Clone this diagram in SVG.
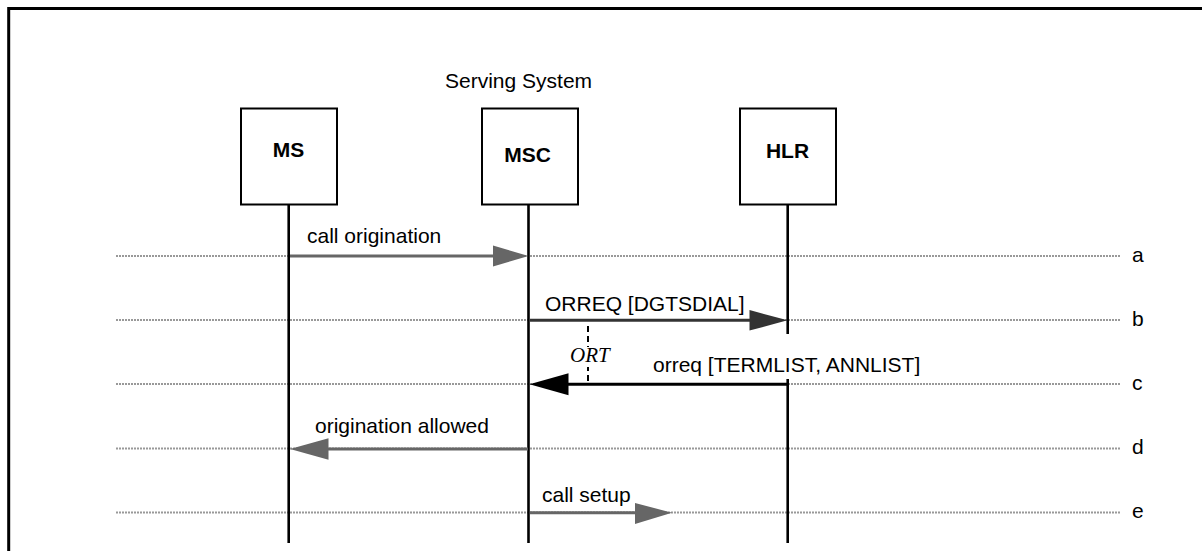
<svg xmlns="http://www.w3.org/2000/svg" width="1202" height="551" viewBox="0 0 1202 551">
<defs>
<style>
.t{font-family:"Liberation Sans",Arial,sans-serif;font-size:21px;fill:#000}
.b{font-family:"Liberation Sans",Arial,sans-serif;font-size:21px;font-weight:bold;fill:#000;text-anchor:middle}
.box{fill:#fff;stroke:#000;stroke-width:2}
.life{stroke:#000;stroke-width:2.6}
.sep{stroke:#999;stroke-width:2;stroke-dasharray:2 1}
.gray{stroke:#666;stroke-width:3;fill:none}
.dark{stroke:#333;stroke-width:3;fill:none}
.blk{stroke:#000;stroke-width:3;fill:none}
</style>
</defs>
<rect width="1202" height="551" fill="#fff"/>
<path d="M8.7,551 V8.5 H1202" fill="none" stroke="#000" stroke-width="3"/>
<text class="t" x="445" y="88">Serving System</text>
<g id="separators">
<line class="sep" x1="116" y1="256" x2="1120" y2="256"/>
<line class="sep" x1="116" y1="320" x2="1120" y2="320"/>
<line class="sep" x1="116" y1="384" x2="1120" y2="384"/>
<line class="sep" x1="116" y1="448.5" x2="1120" y2="448.5"/>
<line class="sep" x1="116" y1="512.5" x2="1120" y2="512.5"/>
<text class="t" x="1132" y="262">a</text>
<text class="t" x="1132" y="326">b</text>
<text class="t" x="1132" y="390">c</text>
<text class="t" x="1132" y="454">d</text>
<text class="t" x="1132" y="518">e</text>
</g>
<g id="MS">
<rect class="box" x="241" y="108.5" width="96" height="96"/>
<line class="life" x1="288.7" y1="205" x2="288.7" y2="543"/>
<text class="b" x="288.5" y="157">MS</text>
</g>
<g id="MSC">
<rect class="box" x="482" y="108.5" width="96" height="96"/>
<line class="life" x1="528.5" y1="205" x2="528.5" y2="543"/>
<text class="b" x="527.5" y="162">MSC</text>
</g>
<g id="HLR">
<rect class="box" x="740" y="108.5" width="96" height="96"/>
<line class="life" x1="787.7" y1="205" x2="787.7" y2="543"/>
<text class="b" x="787.5" y="158">HLR</text>
</g>
<g id="connectors">
<line class="gray" x1="290" y1="256" x2="495" y2="256"/>
<polygon points="493,245.5 528.5,256 493,266.5" fill="#666"/>
<text class="t" x="307" y="243">call origination</text>

<line class="dark" x1="530" y1="320.3" x2="752" y2="320.3"/>
<polygon points="749.5,310 787.5,320.3 749.5,330.6" fill="#333"/>
<text class="t" x="545" y="311">ORREQ [DGTSDIAL]</text>

<line x1="588" y1="322" x2="588" y2="347" stroke="#000" stroke-width="2" stroke-dasharray="6 4" stroke-dashoffset="-4"/>
<line x1="588" y1="367" x2="588" y2="384" stroke="#000" stroke-width="2" stroke-dasharray="6 4" stroke-dashoffset="-8"/>
<text x="570" y="361.5" font-family="'Liberation Serif','Times New Roman',serif" font-style="italic" font-size="21">ORT</text>

<rect x="651" y="334" width="277" height="45" fill="#fff"/>
<line class="blk" x1="787" y1="384.3" x2="565" y2="384.3"/>
<polygon points="568.5,373.3 529.5,384.3 568.5,395.3" fill="#000"/>
<text class="t" x="653" y="371.5">orreq [TERMLIST, ANNLIST]</text>

<line class="gray" x1="528" y1="449" x2="325" y2="449"/>
<polygon points="328.5,438.3 290,449 328.5,459.8" fill="#666"/>
<text class="t" x="315" y="433">origination allowed</text>

<line class="gray" x1="530" y1="512.7" x2="637" y2="512.7"/>
<polygon points="635,503 672,512.7 635,524" fill="#666"/>
<text class="t" x="542" y="501.5">call setup</text>
</g>
</svg>
